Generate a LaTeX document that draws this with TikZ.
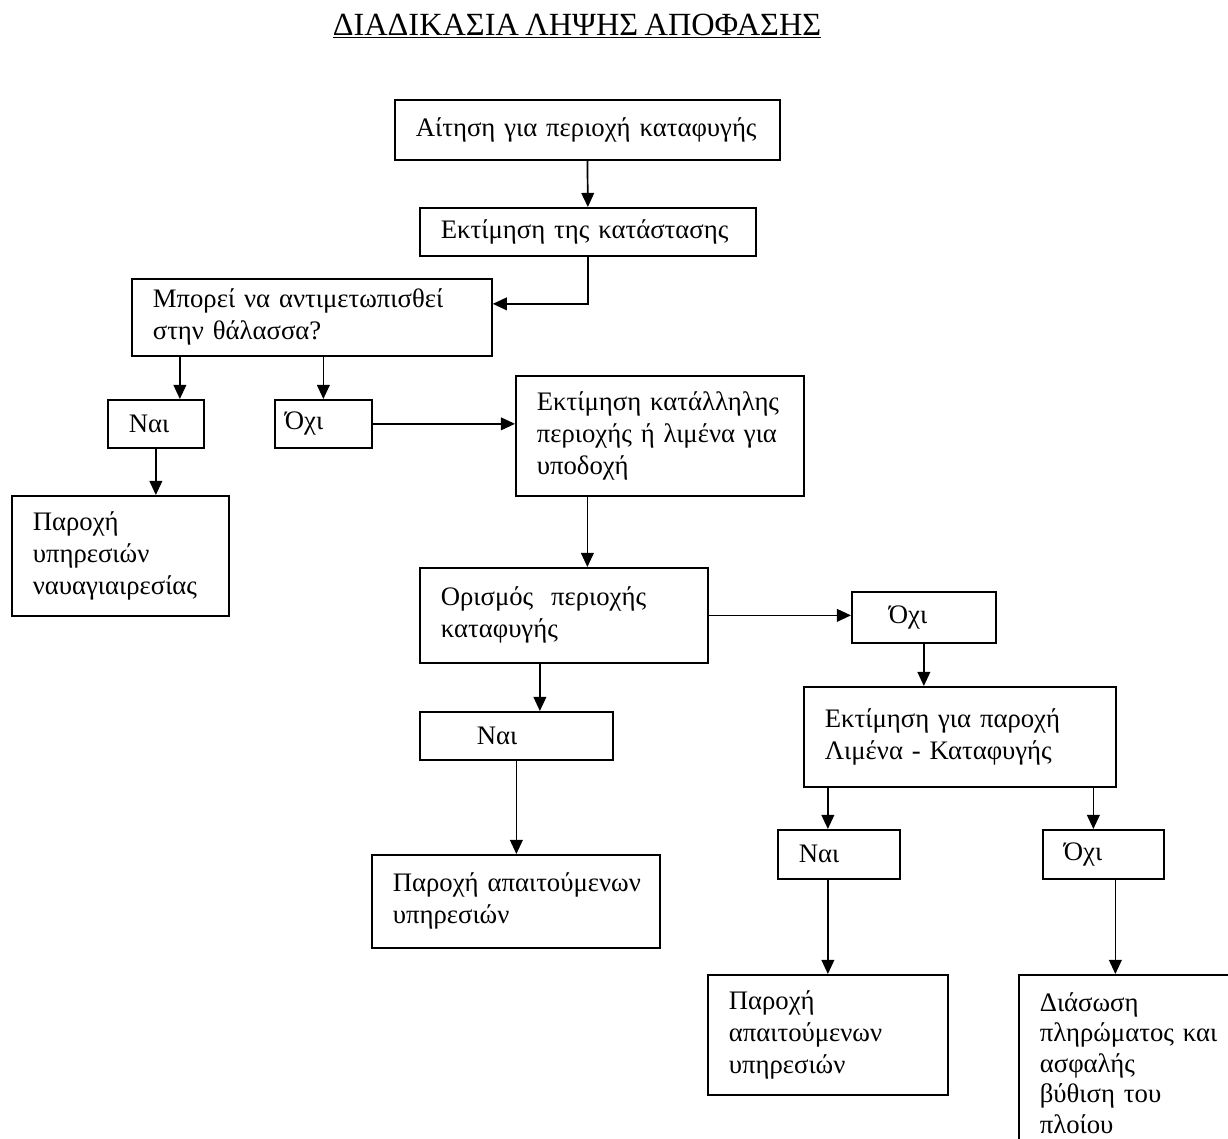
\documentclass[tikz,border=0pt]{standalone}
\usepackage{fontspec}
\setmainfont{Liberation Serif}[WordSpace=0.8]
\usetikzlibrary{arrows.meta, calc}

\begin{document}
\begin{tikzpicture}[x=0.025cm,y=-0.025cm,line width=1.2pt,
  >={Triangle[length=10pt,width=9pt]},
  box/.style={draw,anchor=north west,align=left,inner xsep=0pt,inner ysep=0pt,
    font=\fontsize{19}{22.8}\selectfont,
    execute at begin node={\leftskip=0.525cm\relax}}]
\path[use as bounding box,clip] (0,0) rectangle (1228,1138);

\node[font=\fontsize{23}{26}\selectfont] (title) at (577,26) {\underline{ΔΙΑΔΙΚΑΣΙΑ ΛΗΨΗΣ ΑΠΟΦΑΣΗΣ}};

\node[box,text width=9.625cm,minimum height=1.5cm] (ask) at (394,99) {Αίτηση για περιοχή καταφυγής};
\node[box,text width=8.4cm,minimum height=1.2cm] (assess) at (419,207) {Εκτίμηση της κατάστασης};
\node[box,text width=9cm,minimum height=1.925cm] (sea) at (131,278) {Μπορεί να αντιμετωπισθεί\\στην θάλασσα?};
\node[box,text width=2.4cm,minimum height=1.2cm] (yes1) at (107,399) {Ναι};
\node[box,text width=2.425cm,minimum height=1.2cm] (no1) at (274,399) {\hspace*{-0.275cm}Όχι};
\node[box,text width=7.2cm,minimum height=3cm] (port) at (515,375) {Εκτίμηση κατάλληλης\\περιοχής ή λιμένα για\\υποδοχή};
\node[box,text width=5.425cm,minimum height=3cm] (salvage) at (11,495) {Παροχή\\υπηρεσιών\\ναυαγιαιρεσίας};
\node[box,text width=7.2cm,minimum height=2.375cm] (define) at (419,567) {Ορισμός~~περιοχής\\καταφυγής};
\node[box,text width=3.6cm,minimum height=1.275cm] (no2) at (851,591) {\hspace*{0.4cm}Όχι};
\node[box,text width=7.8cm,minimum height=2.5cm] (haven) at (803,686) {Εκτίμηση για παροχή\\Λιμένα - Καταφυγής};
\node[box,text width=4.825cm,minimum height=1.2cm] (yes2) at (419,711) {\hspace*{0.9cm}Ναι};
\node[box,text width=7.2cm,minimum height=2.325cm] (serv1) at (371,854) {Παροχή απαιτούμενων\\υπηρεσιών};
\node[box,text width=3.05cm,minimum height=1.225cm] (yes3) at (777,829) {Ναι};
\node[box,text width=3.025cm,minimum height=1.225cm] (no3) at (1042,829) {Όχι};
\node[box,text width=6cm,minimum height=3cm] (serv2) at (707,974) {Παροχή\\απαιτούμενων\\υπηρεσιών};
\node[box,text width=6cm,minimum height=4.4cm,font=\fontsize{19}{21.7}\selectfont] (rescue) at (1018,974) {Διάσωση\\πληρώματος και\\ασφαλής\\βύθιση του\\πλοίου};

\draw[->] (ask.south) -- (assess.north);
\draw[->] (assess.south) |- ($(sea.east)+(0,-13.5)$);
\draw[->] ([xshift=0.6cm]yes1.north |- sea.south) -- ([xshift=0.6cm]yes1.north);
\draw[->] (no1.north |- sea.south) -- (no1.north);
\draw[->] (no1.east) -- (no1.east -| port.west);
\draw[->] (yes1.south) -- (yes1.south |- salvage.north);
\draw[->] (port.south -| ask.south) -- (define.north -| ask.south);
\draw[->] (define.east) -- (define.east -| no2.west);
\draw[->] (no2.south) -- (no2.south |- haven.north);
\draw[->] ([xshift=-0.6cm]define.south) -- ([xshift=-0.6cm]define.south |- yes2.north);
\draw[->] (yes2.south) -- (yes2.south |- serv1.north);
\draw[->] ([xshift=-0.275cm]yes3.north |- haven.south) -- ([xshift=-0.275cm]yes3.north);
\draw[->] (yes3.south -| serv2.north) -- (serv2.north);
\draw[->] ([xshift=-0.25cm]no3.north |- haven.south) -- ([xshift=-0.25cm]no3.north);
\draw[->] ([xshift=0.3cm]no3.south) -- ([xshift=0.3cm]no3.south |- rescue.north);
\end{tikzpicture}
\end{document}
